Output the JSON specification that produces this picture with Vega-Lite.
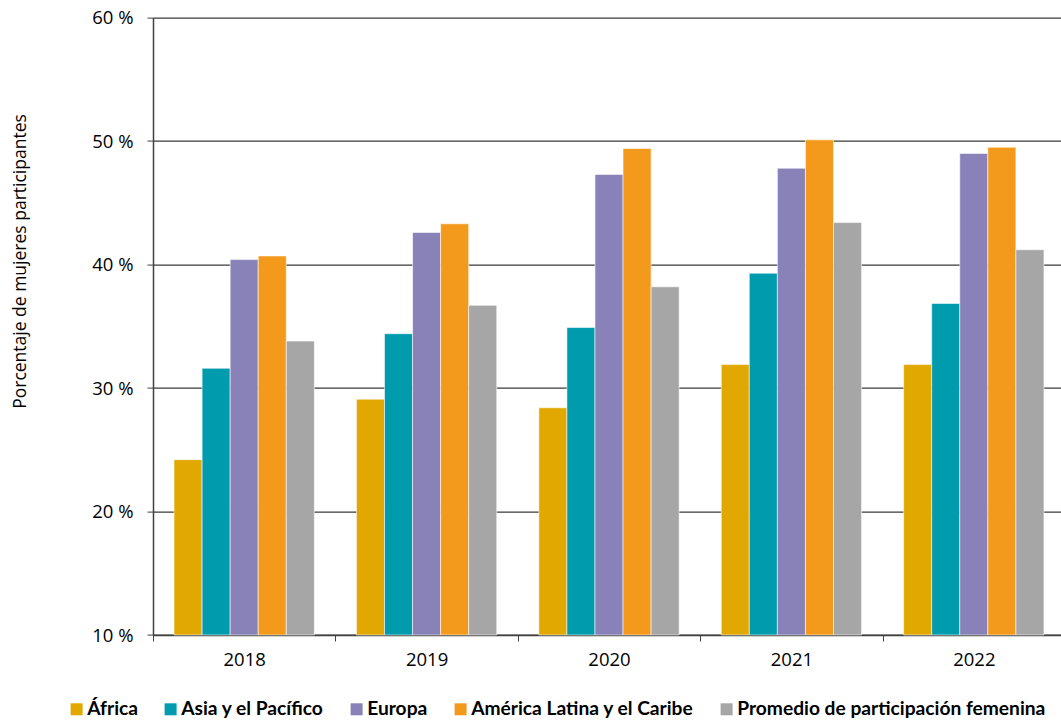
{
  "$schema": "https://vega.github.io/schema/vega-lite/v6.json",
  "autosize": {"type": "none"},
  "padding": {"left": 153, "top": 17.6, "right": 0, "bottom": 90},
  "width": 912,
  "height": 617.4,
  "background": "#ffffff",
  "config": {
    "view": {"stroke": null},
    "font": "Open Sans",
    "axis": {"labelColor": "#000000", "titleColor": "#000000"}
  },
  "data": {
    "values": [
      {"year": "2018", "region": "África", "value": 24.2},
      {"year": "2018", "region": "Asia y el Pacífico", "value": 31.6},
      {"year": "2018", "region": "Europa", "value": 40.4},
      {"year": "2018", "region": "América Latina y el Caribe", "value": 40.7},
      {"year": "2018", "region": "Promedio de participación femenina", "value": 33.8},
      {"year": "2019", "region": "África", "value": 29.1},
      {"year": "2019", "region": "Asia y el Pacífico", "value": 34.4},
      {"year": "2019", "region": "Europa", "value": 42.6},
      {"year": "2019", "region": "América Latina y el Caribe", "value": 43.3},
      {"year": "2019", "region": "Promedio de participación femenina", "value": 36.7},
      {"year": "2020", "region": "África", "value": 28.4},
      {"year": "2020", "region": "Asia y el Pacífico", "value": 34.9},
      {"year": "2020", "region": "Europa", "value": 47.3},
      {"year": "2020", "region": "América Latina y el Caribe", "value": 49.4},
      {"year": "2020", "region": "Promedio de participación femenina", "value": 38.2},
      {"year": "2021", "region": "África", "value": 31.9},
      {"year": "2021", "region": "Asia y el Pacífico", "value": 39.3},
      {"year": "2021", "region": "Europa", "value": 47.8},
      {"year": "2021", "region": "América Latina y el Caribe", "value": 50.1},
      {"year": "2021", "region": "Promedio de participación femenina", "value": 43.4},
      {"year": "2022", "region": "África", "value": 31.9},
      {"year": "2022", "region": "Asia y el Pacífico", "value": 36.85},
      {"year": "2022", "region": "Europa", "value": 49.0},
      {"year": "2022", "region": "América Latina y el Caribe", "value": 49.5},
      {"year": "2022", "region": "Promedio de participación femenina", "value": 41.2}
    ]
  },
  "mark": {"type": "bar", "stroke": "#ffffff", "strokeWidth": 0.8, "strokeOpacity": 0.7},
  "encoding": {
    "x": {
      "field": "year",
      "type": "nominal",
      "scale": {"paddingInner": 0, "paddingOuter": 0},
      "axis": {
        "title": null,
        "labelAngle": 0,
        "labelFontSize": 18.5,
        "labelPadding": 9,
        "tickBand": "extent",
        "tickSize": 6,
        "tickColor": "#404040",
        "domainColor": "#404040",
        "domainWidth": 1.5,
        "grid": false
      }
    },
    "xOffset": {
      "field": "region",
      "type": "nominal",
      "sort": ["África", "Asia y el Pacífico", "Europa", "América Latina y el Caribe", "Promedio de participación femenina"],
      "scale": {"paddingInner": 0, "paddingOuter": 0.75}
    },
    "y": {
      "field": "value",
      "type": "quantitative",
      "scale": {"domain": [10, 60], "nice": false, "zero": false, "clamp": true},
      "axis": {
        "title": "Porcentaje de mujeres participantes",
        "titleFontSize": 17.5,
        "titleFontWeight": "normal",
        "titleAngle": -90,
        "titleX": -133,
        "titleY": 243.4,
        "titleAlign": "center",
        "titleBaseline": "middle",
        "values": [10, 20, 30, 40, 50, 60],
        "labelExpr": "datum.value + ' %'",
        "labelFontSize": 18.5,
        "labelPadding": 14,
        "tickSize": 6,
        "tickColor": "#404040",
        "domainColor": "#404040",
        "domainWidth": 1.5,
        "grid": true,
        "gridColor": "#3a3a3a",
        "gridWidth": 1.2
      }
    },
    "color": {
      "field": "region",
      "type": "nominal",
      "scale": {
        "domain": ["África", "Asia y el Pacífico", "Europa", "América Latina y el Caribe", "Promedio de participación femenina"],
        "range": ["#E0A800", "#009BAD", "#8882B8", "#F39A1C", "#A6A6A6"]
      },
      "legend": {
        "title": null,
        "orient": "none",
        "direction": "horizontal",
        "legendX": -86,
        "legendY": 682,
        "padding": 0,
        "symbolType": "square",
        "symbolSize": 144,
        "symbolStrokeWidth": 0,
        "symbolOffset": 0,
        "labelOffset": 1,
        "columnPadding": 23,
        "labelFont": "Lato",
        "labelFontSize": 19.2,
        "labelFontWeight": "bold",
        "labelColor": "#000000",
        "labelLimit": 400
      }
    }
  }
}
